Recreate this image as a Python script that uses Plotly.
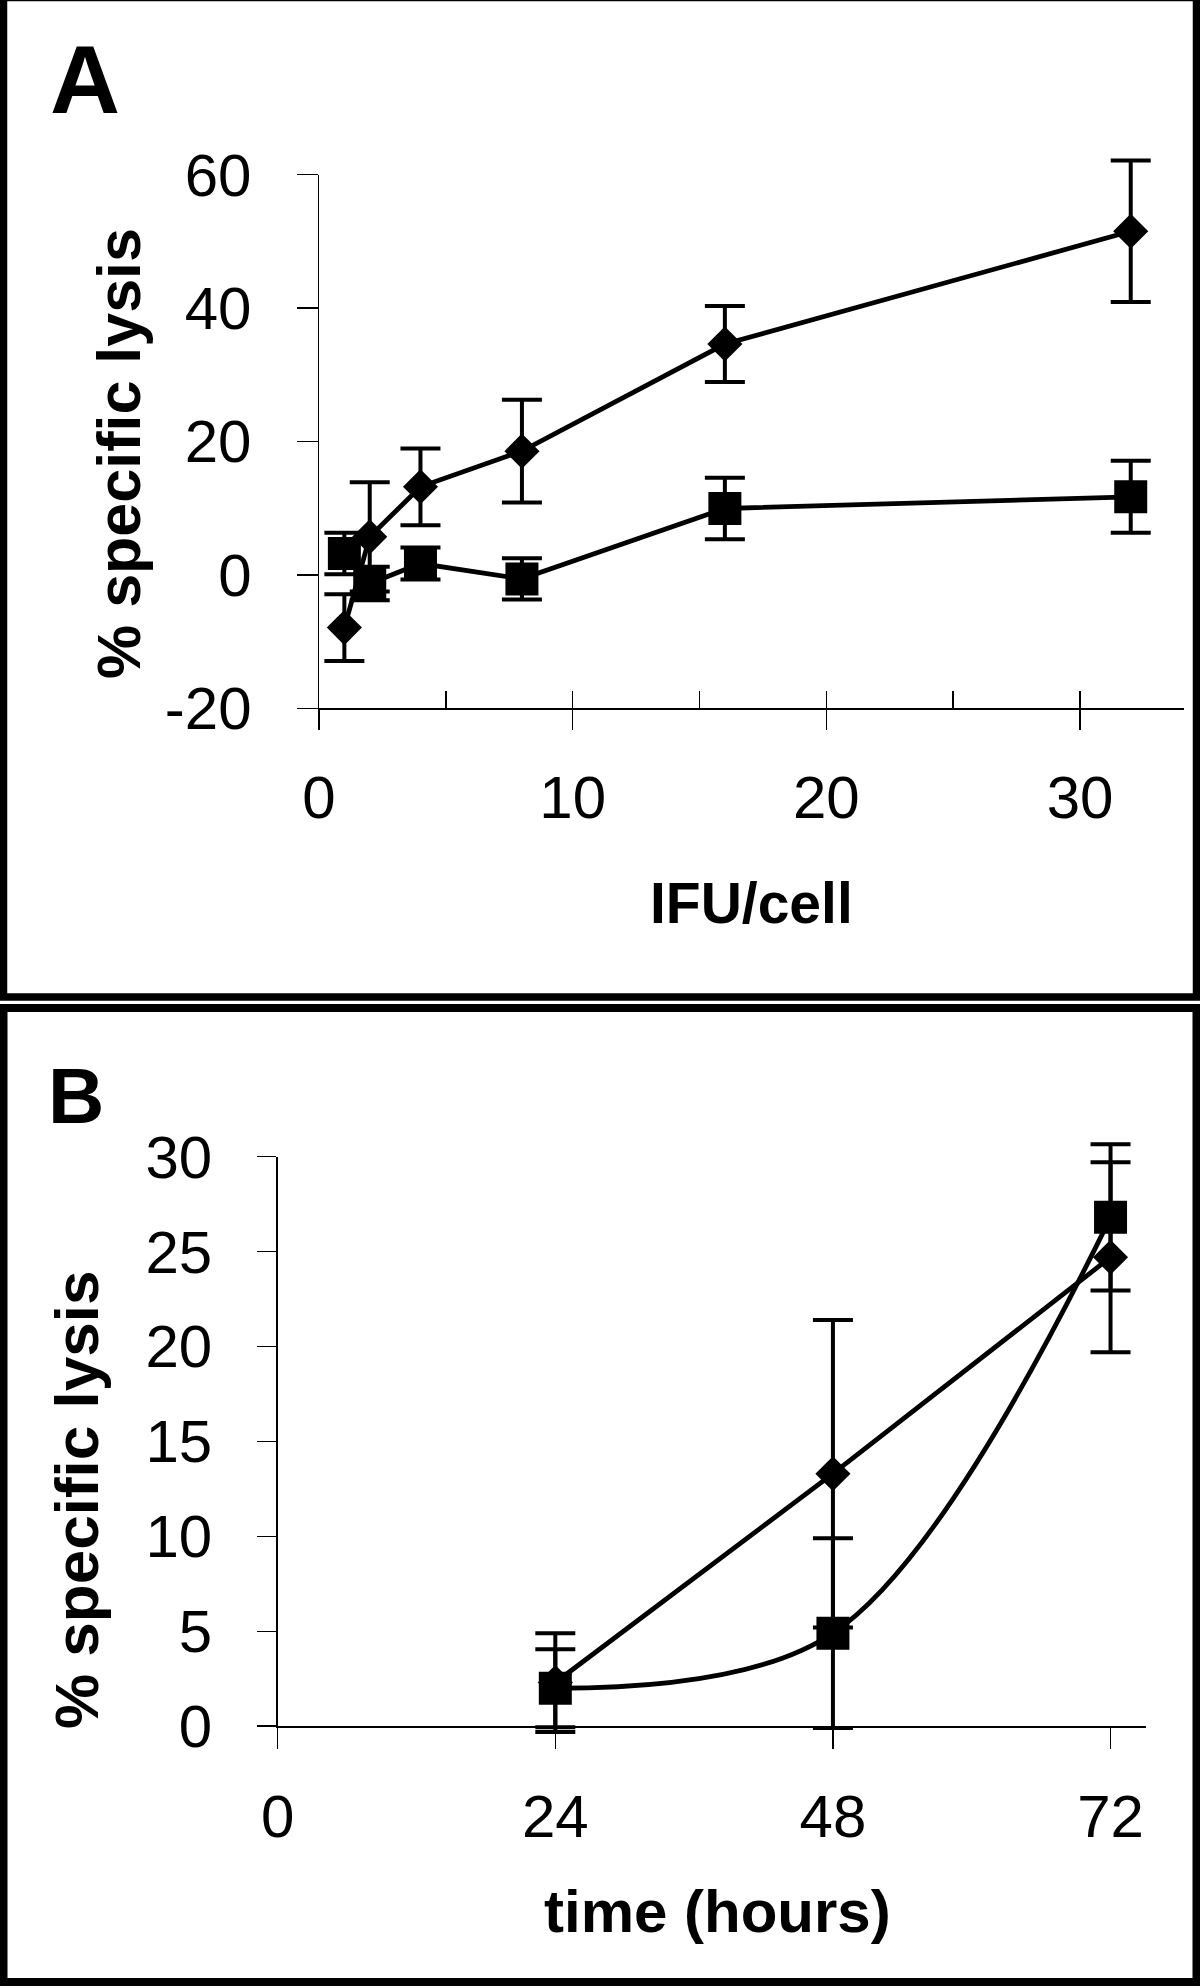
import plotly.graph_objects as go

# ---------------- data ----------------
# Panel A: % specific lysis vs IFU/cell
ifu = [1, 2, 4, 8, 16, 32]
a_diamond = [-7.9, 5.7, 13.2, 18.55, 34.6, 51.5]
a_diamond_err = [5.0, 8.2, 5.75, 7.7, 5.7, 10.6]
a_square = [3.2, -1.3, 1.7, -0.6, 9.95, 11.7]
a_square_err = [3.1, 2.5, 2.4, 3.1, 4.6, 5.4]

a_xtickvals = [0, 10, 20, 30]
a_xticktext = ["0", "10", "20", "30"]
a_xminor = [5, 10, 15, 20, 25, 30]
a_ytickvals = [-20, 0, 20, 40, 60]
a_yticktext = ["-20", "0", "20", "40", "60"]

# Panel B: % specific lysis vs time (hours)
hours = [24, 48, 72]
b_diamond = [2.3, 13.3, 24.7]
b_diamond_err = [2.6, 8.1, 5.0]
b_square = [2.0, 4.9, 26.8]
b_square_err = [2.05, 5.0, 3.85]

b_xtickvals = [0, 24, 48, 72]
b_xticktext = ["0", "24", "48", "72"]
b_ytickvals = [0, 5, 10, 15, 20, 25, 30]
b_yticktext = ["0", "5", "10", "15", "20", "25", "30"]

# ---------------- figure ----------------
W, H = 1200, 1988
FONT = "Liberation Sans, Arial, Helvetica, sans-serif"


def px(x):
    return x / W


def py(y):
    return 1 - y / H


# pixel geometry of the two plot areas
A_X0, A_X1, A_XMAX = 319.0, 1184.0, 34.1
A_YTOP, A_YBOT, A_YMIN, A_YMAX = 174.6, 708.3, -20.0, 60.0
B_X0, B_X1, B_XMAX = 277.7, 1146.4, 75.1
B_YTOP, B_YBOT, B_YMIN, B_YMAX = 1156.6, 1726.2, 0.0, 30.0

a_ppu = (A_YBOT - A_YTOP) / (A_YMAX - A_YMIN)
b_ppu = (B_YBOT - B_YTOP) / (B_YMAX - B_YMIN)
A_PAD, B_PAD = 4.0, 1.5   # extra data room so error bars are not clipped

fig = go.Figure()

# invisible traces that carry the visible axes
fig.add_trace(go.Scatter(x=ifu, y=a_diamond, mode="none", xaxis="x", yaxis="y",
                         hoverinfo="skip", showlegend=False))
fig.add_trace(go.Scatter(x=hours, y=b_diamond, mode="none", xaxis="x2", yaxis="y2",
                         hoverinfo="skip", showlegend=False))

line_w = 4.8
err_style = dict(type="data", visible=True, color="black", thickness=4, width=20)

fig.add_trace(go.Scatter(
    x=ifu, y=a_square, mode="lines+markers", xaxis="x3", yaxis="y3",
    line=dict(color="black", width=line_w),
    marker=dict(symbol="square", size=33, color="black"),
    error_y=dict(array=a_square_err, **err_style),
    cliponaxis=False, showlegend=False))
fig.add_trace(go.Scatter(
    x=ifu, y=a_diamond, mode="lines+markers", xaxis="x3", yaxis="y3",
    line=dict(color="black", width=line_w),
    marker=dict(symbol="diamond", size=27, color="black"),
    error_y=dict(array=a_diamond_err, **err_style),
    cliponaxis=False, showlegend=False))

fig.add_trace(go.Scatter(
    x=hours, y=b_diamond, mode="lines+markers", xaxis="x4", yaxis="y4",
    line=dict(color="black", width=line_w),
    marker=dict(symbol="diamond", size=27, color="black"),
    error_y=dict(array=b_diamond_err, **err_style),
    cliponaxis=False, showlegend=False))
fig.add_trace(go.Scatter(
    x=hours, y=b_square, mode="lines+markers", xaxis="x4", yaxis="y4",
    line=dict(color="black", width=line_w, shape="spline", smoothing=1.0),
    marker=dict(symbol="square", size=33, color="black"),
    error_y=dict(array=b_square_err, **err_style),
    cliponaxis=False, showlegend=False))

tickfont = dict(family=FONT, size=60, color="black")
axis_common = dict(showline=True, linecolor="black", linewidth=1.5,
                   ticks="outside", tickcolor="black", tickwidth=1.5,
                   showgrid=False, zeroline=False, tickfont=tickfont,
                   tickmode="array", fixedrange=True, automargin=False)
hidden = dict(visible=False, showgrid=False, zeroline=False, fixedrange=True)

fig.update_layout(
    width=W, height=H,
    margin=dict(l=0, r=0, t=0, b=0, pad=0, autoexpand=False),
    paper_bgcolor="white", plot_bgcolor="rgba(0,0,0,0)",
    # visible axes, panel A
    xaxis=dict(domain=[px(A_X0), px(A_X1)], range=[0, A_XMAX], anchor="y",
               tickvals=a_xtickvals, ticktext=a_xticktext, ticklen=20,
               ticklabelstandoff=16,
               minor=dict(ticks="inside", tickvals=a_xminor, ticklen=17,
                          tickwidth=1.5, tickcolor="black", showgrid=False),
               **axis_common),
    yaxis=dict(domain=[py(A_YBOT), py(A_YTOP)], range=[A_YMIN, A_YMAX], anchor="x",
               tickvals=a_ytickvals, ticktext=a_yticktext, ticklen=21,
               ticklabelstandoff=33, **axis_common),
    # visible axes, panel B
    xaxis2=dict(domain=[px(B_X0), px(B_X1)], range=[0, B_XMAX], anchor="y2",
                tickvals=b_xtickvals, ticktext=b_xticktext, ticklen=21,
                ticklabelstandoff=16, **axis_common),
    yaxis2=dict(domain=[py(B_YBOT), py(B_YTOP)], range=[B_YMIN, B_YMAX], anchor="x2",
                tickvals=b_ytickvals, ticktext=b_yticktext, ticklen=19,
                ticklabelstandoff=33, **axis_common),
    # data axes (same scales, a little extra room so nothing is clipped)
    xaxis3=dict(domain=[px(A_X0), px(A_X1)], range=[0, A_XMAX], anchor="y3", **hidden),
    yaxis3=dict(domain=[py(A_YBOT + A_PAD * a_ppu), py(A_YTOP - A_PAD * a_ppu)],
                range=[A_YMIN - A_PAD, A_YMAX + A_PAD], anchor="x3", **hidden),
    xaxis4=dict(domain=[px(B_X0), px(B_X1)], range=[0, B_XMAX], anchor="y4", **hidden),
    yaxis4=dict(domain=[py(B_YBOT + B_PAD * b_ppu), py(B_YTOP - B_PAD * b_ppu)],
                range=[B_YMIN - B_PAD, B_YMAX + B_PAD], anchor="x4", **hidden),
)

bold = dict(family=FONT, color="black", weight="bold")
annos = [
    dict(text="A", x=px(84.5), y=py(79), font=dict(size=97, **bold)),
    dict(text="B", x=px(75.5), y=py(1096), font=dict(size=78, **bold)),
    dict(text="% specific lysis", x=px(119), y=py(454), textangle=-90,
         font=dict(size=61, **bold)),
    dict(text="% specific lysis", x=px(76), y=py(1500), textangle=-90,
         font=dict(size=62, **bold)),
    dict(text="IFU/cell", x=px(751), y=py(903), font=dict(size=57, **bold)),
    dict(text="time (hours)", x=px(717.5), y=py(1911), font=dict(size=60, **bold)),
]
for a in annos:
    fig.add_annotation(xref="paper", yref="paper", xanchor="center",
                       yanchor="middle", showarrow=False, **a)

# panel frames
fig.add_shape(type="rect", xref="paper", yref="paper",
              x0=px(3.5), x1=px(1196.5), y0=py(997), y1=py(-2.5),
              line=dict(color="black", width=7.5))
fig.add_shape(type="rect", xref="paper", yref="paper",
              x0=px(3.5), x1=px(1196.5), y0=py(1982), y1=py(1008),
              line=dict(color="black", width=8))

fig.write_html(
    "out.html",
    config={"displayModeBar": False, "staticPlot": True},
    post_script="document.body.style.margin='0';document.body.style.overflow='hidden';",
)
